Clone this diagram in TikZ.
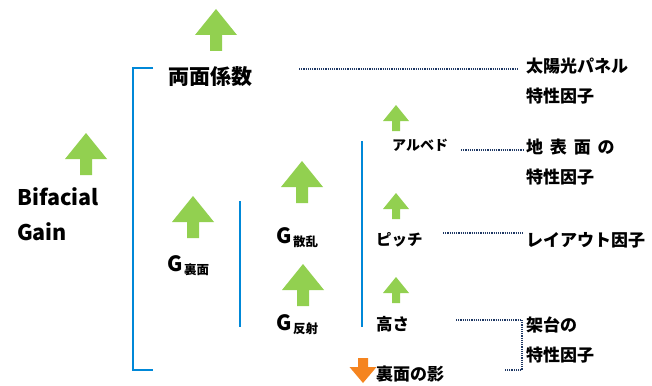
\documentclass[tikz,border=0pt]{standalone}
\usepackage{fontspec}
\setmainfont{Noto Sans CJK JP}
\usetikzlibrary{positioning}
\definecolor{leafgreen}{RGB}{146,208,80}
\definecolor{lineblue}{RGB}{0,136,216}
\definecolor{shadeorange}{RGB}{245,132,31}
\definecolor{dotnavy}{RGB}{31,56,100}

\begin{document}
\begin{tikzpicture}[x=1pt,y=-1pt,
  lbl/.style={anchor=west,inner sep=0pt,font=\bfseries\fontsize{17}{17}\selectfont},
  smalllbl/.style={lbl,font=\bfseries\fontsize{14}{14}\selectfont},
  biglbl/.style={lbl,font=\bfseries\fontsize{21}{21}\selectfont},
  gridline/.style={draw=lineblue,line width=2.4pt},
  dotline/.style={draw=dotnavy,line width=1.2pt,densely dotted},
  bigup/.pic={\fill[leafgreen] (-21,0) -- (0,-26) -- (21,0) -- (6,0) -- (6,16) -- (-6,16) -- (-6,0) -- cycle;},
  smallup/.pic={\fill[leafgreen] (-13,0) -- (0,-16) -- (13,0) -- (4,0) -- (4,10) -- (-4,10) -- (-4,0) -- cycle;},
  down/.pic={\fill[shadeorange] (-13.5,0) -- (0,16) -- (13.5,0) -- (5,0) -- (5,-9) -- (-5,-9) -- (-5,0) -- cycle;}]
%\draw[help lines,step=50] (0,0) grid (652,385);
\useasboundingbox (0,0) rectangle (652,385);

% arrows
\pic at (216,35) {bigup};
\pic at (86,159) {bigup};
\pic at (193,222) {bigup};
\pic at (302,187) {bigup};
\pic at (303,290) {bigup};
\pic at (396,121) {smallup};
\pic at (396,209) {smallup};
\pic at (396,293) {smallup};
\pic at (363,367) {down};

% labels
\node[biglbl,align=left,font=\bfseries\fontsize{21.5}{35}\selectfont] (gain) at (17,214) {Bifacial\\Gain};
\node[biglbl] (bifac) at (168,77) {両面係数};
\node[biglbl] (gback) at (167,266) {G\kern1.5pt\raisebox{-3pt}{\fontsize{12.5}{12.5}\selectfont 裏面}};
\node[biglbl] (gscat) at (276,238) {G\kern1.5pt\raisebox{-3pt}{\fontsize{12.5}{12.5}\selectfont 散乱}};
\node[biglbl] (grefl) at (276,325) {G\kern1.5pt\raisebox{-3pt}{\fontsize{12.5}{12.5}\selectfont 反射}};
\node[smalllbl] (albedo) at (392,145) {アルベド};
\node[lbl,font=\bfseries\fontsize{15.5}{15.5}\selectfont] (pitch) at (376,240) {ピッチ};
\node[lbl,font=\bfseries\fontsize{16.5}{16.5}\selectfont] (height) at (376,324) {高さ};
\node[lbl] (shadow) at (376,374) {裏面の影};

\node[lbl] (panel) at (526,66) {太陽光パネル};
\node[lbl] (panelf) at (526,96) {特性因子};
\node[lbl] (ground) at (526,147) {地\hspace{0.4em}表\hspace{0.4em}面\hspace{0.4em}の};
\node[lbl] (groundf) at (526,177) {特性因子};
\node[lbl] (layout) at (526,240) {レイアウト因子};
\node[lbl] (stand) at (526,325) {架台の};
\node[lbl] (standf) at (526,355) {特性因子};

% brackets
\coordinate (brtop) at (153,68);
\coordinate (brbot) at (153,370);
\draw[gridline] (brtop) -| (133,370) -- (brbot);
\coordinate (mid1) at (240,201);
\coordinate (mid2) at (240,327);
\draw[gridline] (mid1) -- (mid2);
\coordinate (sub1) at (362,141);
\coordinate (sub2) at (362,327);
\draw[gridline] (sub1) -- (sub2);

% dotted leaders
\coordinate (d1) at (299,69);
\draw[dotline,shorten >=8pt] (d1) -- (d1 -| panel.west);
\coordinate (d2) at (461,150);
\draw[dotline,shorten >=3pt] (d2) -- (d2 -| ground.west);
\coordinate (d3) at (443,233);
\draw[dotline,shorten >=3pt] (d3) -- (d3 -| layout.west);
\coordinate (d4) at (456,320);
\coordinate (d4c) at (522,320);
\coordinate (d4e) at (505,370);
\draw[dotline] (d4) -- (d4c) |- (d4e);
\end{tikzpicture}
\end{document}
